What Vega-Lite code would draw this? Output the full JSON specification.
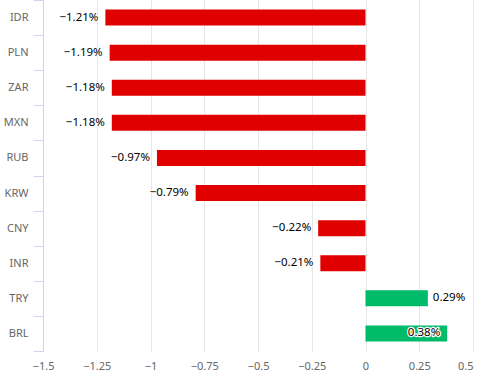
{
  "$schema": "https://vega.github.io/schema/vega-lite/v6.json",
  "width": 430,
  "height": 351,
  "autosize": "none",
  "padding": {"left": 43, "top": 0, "right": 9, "bottom": 35},
  "config": {"font": "Noto Sans", "view": {"stroke": null}},
  "data": {
    "values": [
      {"currency": "IDR", "change": -1.21},
      {"currency": "PLN", "change": -1.19},
      {"currency": "ZAR", "change": -1.18},
      {"currency": "MXN", "change": -1.18},
      {"currency": "RUB", "change": -0.97},
      {"currency": "KRW", "change": -0.79},
      {"currency": "CNY", "change": -0.22},
      {"currency": "INR", "change": -0.21},
      {"currency": "TRY", "change": 0.29},
      {"currency": "BRL", "change": 0.38}
    ]
  },
  "transform": [{"calculate": "format(datum.change, '.2f') + '%'", "as": "label"}],
  "encoding": {
    "y": {
      "field": "currency",
      "type": "nominal",
      "sort": null,
      "scale": {"paddingInner": 0, "paddingOuter": 0},
      "axis": {
        "title": null,
        "tickBand": "extent",
        "tickSize": 10,
        "tickColor": "#ccd6eb",
        "domainColor": "#ccd6eb",
        "labelColor": "#666666",
        "labelFontSize": 11,
        "labelPadding": 5,
        "grid": false
      }
    },
    "x": {
      "field": "change",
      "type": "quantitative",
      "scale": {"domain": [-1.5, 0.5], "nice": false, "zero": false},
      "axis": {
        "title": null,
        "values": [-1.5, -1.25, -1, -0.75, -0.5, -0.25, 0, 0.25, 0.5],
        "format": ".2~f",
        "grid": true,
        "gridColor": "#e6e6e6",
        "domain": false,
        "ticks": false,
        "labelColor": "#666666",
        "labelFontSize": 11,
        "labelPadding": 9,
        "labelAlign": {"condition": {"test": "datum.value == 0.5", "value": "right"}, "value": "center"}
      }
    }
  },
  "layer": [
    {
      "mark": {"type": "bar", "size": 16},
      "encoding": {
        "color": {"condition": {"test": "datum.change < 0", "value": "#e10000"}, "value": "#00bb6a"}
      }
    },
    {
      "transform": [{"filter": "datum.change < 0 || datum.change > 0.35"}],
      "mark": {"type": "text", "align": "right", "dx": -7, "fontSize": 11.5, "stroke": "white", "strokeWidth": 2.5, "strokeJoin": "round", "fill": "white"},
      "encoding": {"text": {"field": "label"}}
    },
    {
      "transform": [{"filter": "datum.change < 0 || datum.change > 0.35"}],
      "mark": {"type": "text", "align": "right", "dx": -7, "fontSize": 11.5, "fill": "#000000"},
      "encoding": {"text": {"field": "label"}}
    },
    {
      "transform": [{"filter": "datum.change >= 0 && datum.change <= 0.35"}],
      "mark": {"type": "text", "align": "left", "dx": 5, "fontSize": 11.5, "fill": "#000000"},
      "encoding": {"text": {"field": "label"}}
    }
  ]
}
